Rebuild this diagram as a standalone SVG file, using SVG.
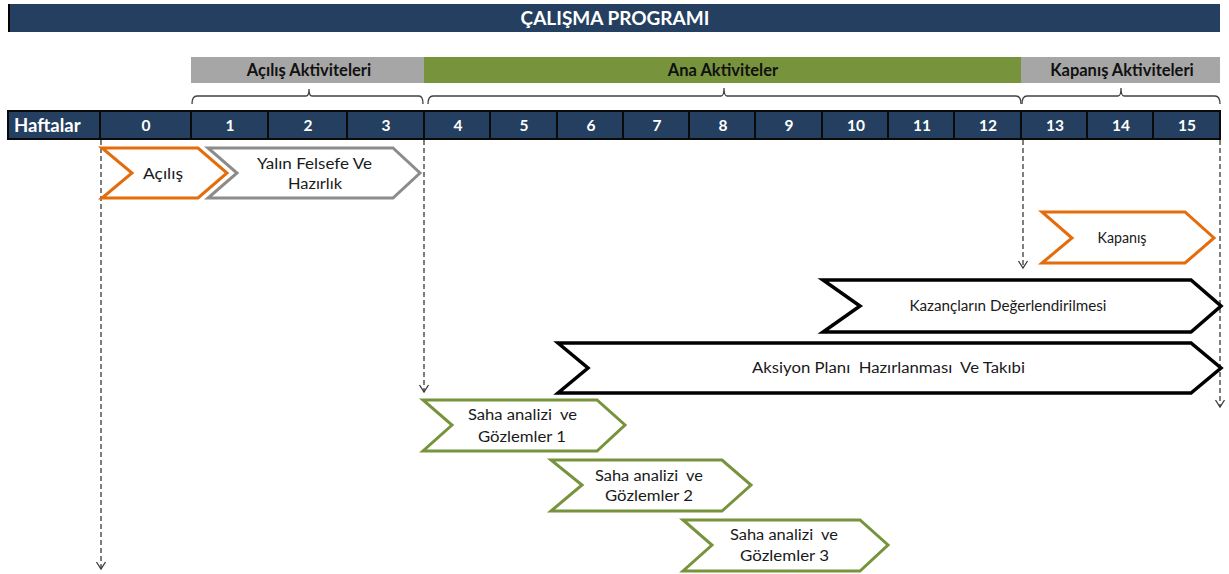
<svg xmlns="http://www.w3.org/2000/svg" width="1229" height="574" viewBox="0 0 1229 574">
<defs>
<style>
.hdr{font-family:Lato,"Open Sans","Liberation Sans",sans-serif;font-weight:bold;fill:#fff;}
.wk{font-family:Lato,"Open Sans","Liberation Sans",sans-serif;font-weight:bold;fill:#fff;font-size:15.5px;text-anchor:middle;}
.ph{font-family:Lato,"Open Sans","Liberation Sans",sans-serif;font-weight:bold;fill:#111;font-size:16.5px;text-anchor:middle;}
.lbl{font-family:Lato,"Open Sans","Liberation Sans",sans-serif;fill:#1a1a1a;font-size:15.5px;text-anchor:middle;}
.cell{fill:#243F60;stroke:#0a0a0a;stroke-width:2;}
.brace{fill:none;stroke:#404040;stroke-width:1.3;}
.dash{fill:none;stroke:#3a3a3a;stroke-width:1.3;stroke-dasharray:5 3;}
.chev{fill:#fff;stroke-width:3;stroke-linejoin:miter;}
.or{stroke:#E46C0A;}
.gr{stroke:#8C8C8C;}
.bk{stroke:#000;stroke-width:3.5;}
.gn{stroke:#77933C;}
</style>
<marker id="arr" markerWidth="12" markerHeight="12" refX="10" refY="6" orient="auto" markerUnits="userSpaceOnUse" viewBox="0 0 12 12">
<path d="M3,1.5 L10,6 L3,10.5" fill="none" stroke="#3a3a3a" stroke-width="1.3"/>
</marker>
</defs>
<rect width="1229" height="574" fill="#fff"/>

<g id="title">
<rect x="8" y="4" width="1212" height="28" fill="#243F60"/>
<rect x="8" y="4" width="2" height="28" fill="#000"/>
<text x="615" y="25" class="hdr" font-size="19" text-anchor="middle">ÇALIŞMA PROGRAMI</text>
</g>

<g id="phases">
<rect x="191" y="57" width="233" height="26" fill="#A6A6A6"/>
<text x="309" y="76" class="ph">Açılış Aktiviteleri</text>
<rect x="424" y="57" width="597" height="26" fill="#77933C"/>
<text x="723" y="76" class="ph">Ana Aktiviteler</text>
<rect x="1021" y="57" width="199" height="26" fill="#A6A6A6"/>
<text x="1122" y="76" class="ph">Kapanış Aktiviteleri</text>
</g>

<g id="braces">
<path class="brace" d="M192,104 Q192,96 197,96 L306,96 Q309,96 309,89 Q309,96 312,96 L419,96 Q423,96 423,104"/>
<path class="brace" d="M428,104 Q428,96 433,96 L721,96 Q724,96 724,88 Q724,96 727,96 L1016,96 Q1021,96 1021,104"/>
<path class="brace" d="M1022,104 Q1022,96 1027,96 L1118,96 Q1121,96 1121,88 Q1121,96 1124,96 L1215,96 Q1220,96 1220,104"/>
</g>

<g id="weeks">
<rect class="cell" x="8" y="111" width="92" height="28"/>
<text x="14" y="132" class="hdr" font-size="18.5">Haftalar</text>
<rect class="cell" x="100" y="111" width="91" height="28"/><text x="146" y="131" class="wk">0</text>
<rect class="cell" x="191" y="111" width="77" height="28"/><text x="230" y="131" class="wk">1</text>
<rect class="cell" x="268" y="111" width="79" height="28"/><text x="308" y="131" class="wk">2</text>
<rect class="cell" x="347" y="111" width="77" height="28"/><text x="386" y="131" class="wk">3</text>
<rect class="cell" x="424" y="111" width="66" height="28"/><text x="458" y="131" class="wk">4</text>
<rect class="cell" x="490" y="111" width="67" height="28"/><text x="524" y="131" class="wk">5</text>
<rect class="cell" x="557" y="111" width="66" height="28"/><text x="591" y="131" class="wk">6</text>
<rect class="cell" x="623" y="111" width="66" height="28"/><text x="657" y="131" class="wk">7</text>
<rect class="cell" x="689" y="111" width="66" height="28"/><text x="723" y="131" class="wk">8</text>
<rect class="cell" x="755" y="111" width="67" height="28"/><text x="789" y="131" class="wk">9</text>
<rect class="cell" x="822" y="111" width="66" height="28"/><text x="856" y="131" class="wk">10</text>
<rect class="cell" x="888" y="111" width="66" height="28"/><text x="922" y="131" class="wk">11</text>
<rect class="cell" x="954" y="111" width="67" height="28"/><text x="988" y="131" class="wk">12</text>
<rect class="cell" x="1021" y="111" width="66" height="28"/><text x="1055" y="131" class="wk">13</text>
<rect class="cell" x="1087" y="111" width="66" height="28"/><text x="1121" y="131" class="wk">14</text>
<rect class="cell" x="1153" y="111" width="67" height="28"/><text x="1187" y="131" class="wk">15</text>
</g>

<g id="connectors">
<path class="dash" d="M101,140 L101,569" marker-end="url(#arr)"/>
<path class="dash" d="M424,140 L424,392" marker-end="url(#arr)"/>
<path class="dash" d="M1023,140 L1023,268" marker-end="url(#arr)"/>
<path class="dash" d="M1220,140 L1220,407" marker-end="url(#arr)"/>
</g>

<g id="acilis">
<polygon class="chev or" points="102,148 198,148 227,173 198,198 102,198 132,173"/>
<text x="163" y="179" class="lbl" textLength="40" lengthAdjust="spacingAndGlyphs">Açılış</text>
</g>
<g id="yalin">
<polygon class="chev gr" points="208,148 393,148 420,173 393,198 208,198 237,173"/>
<text x="314.5" y="169" class="lbl" textLength="115" lengthAdjust="spacingAndGlyphs">Yalın Felsefe Ve</text>
<text x="315" y="189" class="lbl" textLength="54" lengthAdjust="spacingAndGlyphs">Hazırlık</text>
</g>
<g id="kapanis">
<polygon class="chev or" points="1042,212 1185,212 1214,238 1185,263 1042,263 1072,238"/>
<text x="1122" y="243" class="lbl" textLength="49" lengthAdjust="spacingAndGlyphs">Kapanış</text>
</g>
<g id="kazanclar">
<polygon class="chev bk" points="823,280 1191,280 1221,306 1191,332 823,332 860,306"/>
<text x="1008" y="311" class="lbl" textLength="197" lengthAdjust="spacingAndGlyphs">Kazançların Değerlendirilmesi</text>
</g>
<g id="aksiyon">
<polygon class="chev bk" points="558,343 1191,343 1221,368 1191,393 558,393 588,368"/>
<text x="888.5" y="373" class="lbl" xml:space="preserve" textLength="273" lengthAdjust="spacingAndGlyphs">Aksiyon Planı  Hazırlanması  Ve Takıbi</text>
</g>
<g id="saha1">
<polygon class="chev gn" points="423,400 597,400 625,425 597,451 423,451 452,425"/>
<text x="522.5" y="420" class="lbl" xml:space="preserve" textLength="109" lengthAdjust="spacingAndGlyphs">Saha analizi  ve</text>
<text x="522" y="442" class="lbl" textLength="88" lengthAdjust="spacingAndGlyphs">Gözlemler 1</text>
</g>
<g id="saha2">
<polygon class="chev gn" points="551,460 722,460 751,485 722,511 551,511 582,485"/>
<text x="649" y="481" class="lbl" xml:space="preserve" textLength="108" lengthAdjust="spacingAndGlyphs">Saha analizi  ve</text>
<text x="649" y="501" class="lbl" textLength="88" lengthAdjust="spacingAndGlyphs">Gözlemler 2</text>
</g>
<g id="saha3">
<polygon class="chev gn" points="683,520 860,520 888,545 860,571 683,571 712,545"/>
<text x="784" y="540" class="lbl" xml:space="preserve" textLength="108" lengthAdjust="spacingAndGlyphs">Saha analizi  ve</text>
<text x="784.5" y="561" class="lbl" textLength="89" lengthAdjust="spacingAndGlyphs">Gözlemler 3</text>
</g>
</svg>
